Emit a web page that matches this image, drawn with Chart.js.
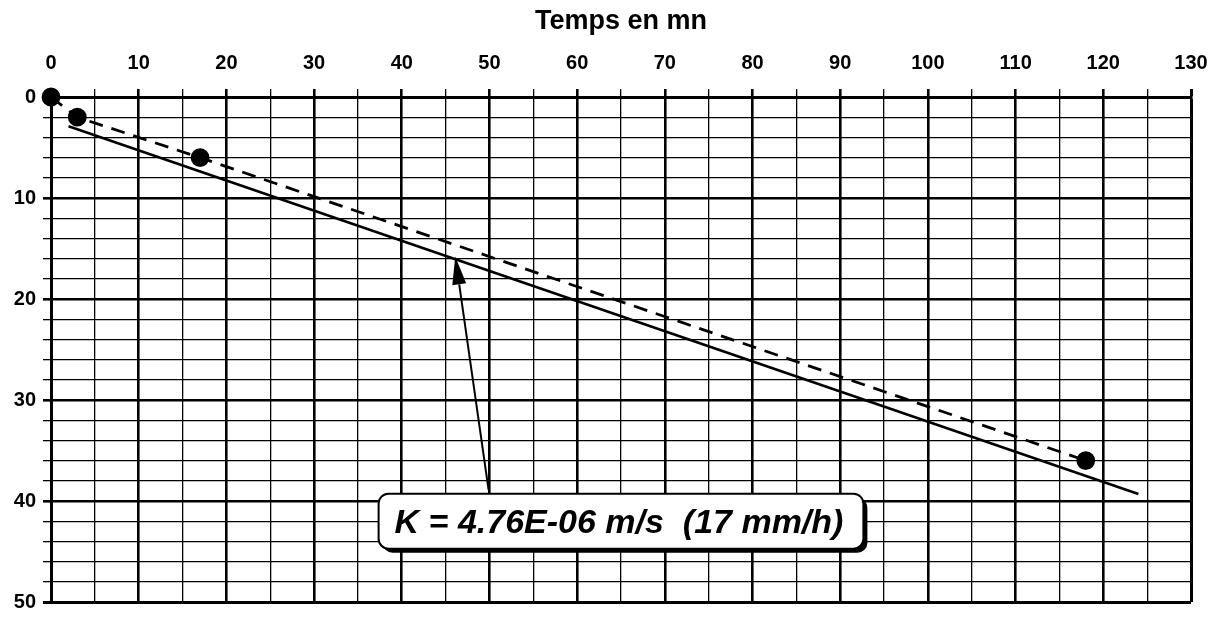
<!DOCTYPE html>
<html>
<head>
<meta charset="utf-8">
<script src="https://cdn.jsdelivr.net/npm/chart.js@4.4.0/dist/chart.umd.min.js"></script>
<style>
  html, body { margin: 0; background: #fff; }
</style>
</head>
<body>
<canvas id="infiltration" width="1216" height="619"></canvas>
<script>
// measured points (time in min, level drop)
const measureT = [0, 3, 17, 118];
const measureH = [0, 2, 6, 36];
// fitted straight line
const fitT = [2, 124];
const fitH = [2.9, 39.3];

const xTitle = "Temps en mn";
const noteText = "K = 4.76E-06 m/s  (17 mm/h)";
// where the note and its arrow sit, in data units
const noteAt = { x: 65, y: 42 };
const arrowFrom = { x: 49.9, y: 38.9 };
const arrowTo = { x: 46.1, y: 15.8 };

const FONT = '"Liberation Sans", Arial, sans-serif';

const toXY = (xs, ys) => xs.map((v, i) => ({ x: v, y: ys[i] }));

const notePlugin = {
  id: "note",
  afterDatasetsDraw(chart) {
    const { ctx, scales: { x, y } } = chart;
    ctx.save();

    // arrow
    const fx = x.getPixelForValue(arrowFrom.x), fy = y.getPixelForValue(arrowFrom.y);
    const tx = x.getPixelForValue(arrowTo.x),   ty = y.getPixelForValue(arrowTo.y);
    const ang = Math.atan2(ty - fy, tx - fx);
    const head = 28, half = 7;
    const bx = tx - head * Math.cos(ang), by = ty - head * Math.sin(ang);
    ctx.strokeStyle = "#000"; ctx.fillStyle = "#000"; ctx.lineWidth = 2;
    ctx.beginPath(); ctx.moveTo(fx, fy); ctx.lineTo(bx, by); ctx.stroke();
    ctx.beginPath();
    ctx.moveTo(tx, ty);
    ctx.lineTo(bx + half * Math.sin(ang), by - half * Math.cos(ang));
    ctx.lineTo(bx - half * Math.sin(ang), by + half * Math.cos(ang));
    ctx.closePath(); ctx.fill();

    // boxed label with drop shadow
    ctx.font = "italic bold 34px " + FONT;
    const w = ctx.measureText(noteText).width + 36, h = 55;
    const cx = x.getPixelForValue(noteAt.x), cy = y.getPixelForValue(noteAt.y);
    const left = cx - w / 2, top = cy - h / 2;
    ctx.beginPath(); ctx.roundRect(left + 4, top + 4, w, h, 10); ctx.fill();
    ctx.beginPath(); ctx.roundRect(left, top, w, h, 10);
    ctx.fillStyle = "#fff"; ctx.fill();
    ctx.lineWidth = 2; ctx.stroke();
    ctx.fillStyle = "#000"; ctx.textAlign = "center"; ctx.textBaseline = "middle";
    ctx.fillText(noteText, cx - 2, cy + 2);
    ctx.restore();
  },
};

const gridWidth = (major, edge) => ctx => {
  const v = ctx.tick ? ctx.tick.value : 0;
  if (v === edge) return 3;
  return v % major === 0 ? 2.6 : 1.3;
};

new Chart(document.getElementById("infiltration"), {
  type: "scatter",
  data: {
    datasets: [
      {
        data: toXY(fitT, fitH), showLine: true, borderColor: "#000", borderWidth: 2.6,
        pointRadius: 0, tension: 0, clip: false,
      },
      {
        data: toXY(measureT, measureH), showLine: true, borderColor: "#000", borderWidth: 2.8,
        borderDash: [14, 9], pointRadius: 8, pointBackgroundColor: "#000", pointBorderColor: "#000",
        tension: 0, clip: false,
      },
    ],
  },
  options: {
    responsive: false,
    animation: false,
    layout: { padding: { left: 0, top: 0, right: 25, bottom: 17 } },
    plugins: { legend: { display: false }, tooltip: { enabled: false } },
    scales: {
      x: {
        type: "linear", position: "top", min: 0, max: 130,
        afterFit: s => { s.height = 97; s.paddingLeft = 0; s.paddingRight = 0; },
        title: { display: true, text: xTitle, color: "#000", font: { family: FONT, size: 27, weight: "bold" }, padding: { top: 5, bottom: 0 } },
        ticks: {
          stepSize: 5, color: "#000", padding: 14, maxRotation: 0, autoSkip: false,
          font: { family: FONT, size: 20, weight: "bold" },
          callback: v => (v % 10 === 0 ? v : ""),
        },
        grid: { color: "#000", lineWidth: gridWidth(10, 130), tickLength: 8 },
        border: { color: "#000", width: 3 },
      },
      y: {
        type: "linear", reverse: true, min: 0, max: 50,
        afterFit: s => { s.width = 51; s.paddingTop = 0; s.paddingBottom = 0; },
        ticks: {
          stepSize: 2, color: "#000", padding: 7, autoSkip: false,
          font: { family: FONT, size: 20, weight: "bold" },
          callback: v => (v % 10 === 0 ? v : ""),
        },
        grid: { color: "#000", lineWidth: gridWidth(10, 50), tickLength: 8 },
        border: { color: "#000", width: 3 },
      },
    },
  },
  plugins: [notePlugin],
});
</script>
</body>
</html>
